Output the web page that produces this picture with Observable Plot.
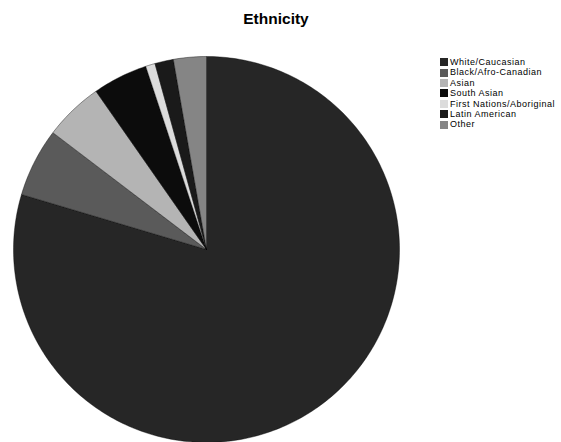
<!DOCTYPE html>
<html>
<head>
<meta charset="utf-8">
<script src="https://cdn.jsdelivr.net/npm/d3@7"></script>
<script src="https://cdn.jsdelivr.net/npm/@observablehq/plot@0.6"></script>
<style>
  body { margin: 0; background: #fff; font-family: "Liberation Sans", Arial, sans-serif; }
  #wrap { position: relative; width: 561px; height: 442px; overflow: hidden; }
  #title { position: absolute; left: 276px; top: 10px; transform: translateX(-50%); font-weight: bold; font-size: 15.5px; white-space: nowrap; }
  #legend { position: absolute; left: 440px; top: 57px; font-size: 9px; letter-spacing: 0.5px; }
  .row { display: flex; align-items: center; height: 10.4px; white-space: nowrap; }
  .sw { width: 8px; height: 8px; margin-right: 2px; flex: none; }
  .lab { display: block; line-height: 10.4px; }
  #chart { position: absolute; left: 0; top: 30px; }
</style>
</head>
<body>
<div id="wrap">
  <div id="title">Ethnicity</div>
  <div id="chart"></div>
  <div id="legend"></div>
</div>
<script>
const categories = ["White/Caucasian", "Black/Afro-Canadian", "Asian", "South Asian", "First Nations/Aboriginal", "Latin American", "Other"];
const percentages = [79.6, 5.75, 4.95, 4.6, 0.8, 1.55, 2.75];
const colors = ["#262626", "#5a5a5a", "#b4b4b4", "#0c0c0c", "#dcdcdc", "#1a1a1a", "#858585"];

// Slice outlines on the unit circle (pie starts at 12 o'clock, clockwise)
const total = d3.sum(percentages);
const pts = [];
let acc = 0;
categories.forEach((name, i) => {
  const a0 = acc / total * 2 * Math.PI;
  acc += percentages[i];
  const a1 = acc / total * 2 * Math.PI;
  pts.push({name, x: 0, y: 0});
  const n = Math.max(2, Math.ceil((a1 - a0) / (Math.PI / 180)));
  for (let k = 0; k <= n; k++) {
    const a = a0 + (a1 - a0) * k / n;
    pts.push({name, x: Math.sin(a), y: Math.cos(a)});
  }
  pts.push({name, x: 0, y: 0});
});

const chart = Plot.plot({
  width: 561,
  height: 412,
  marginLeft: 13,
  marginRight: 162,
  marginTop: 26,
  marginBottom: 0,
  x: {domain: [-1, 1], axis: null},
  y: {domain: [-1, 1], axis: null},
  color: {domain: categories, range: colors},
  marks: [
    Plot.line(pts, {x: "x", y: "y", z: "name", fill: "name", stroke: "#000", strokeWidth: 0.4, curve: "linear"})
  ]
});
document.getElementById("chart").appendChild(chart);

const legend = document.getElementById("legend");
categories.forEach((c, i) => {
  const row = document.createElement("div");
  row.className = "row";
  const sw = document.createElement("div");
  sw.className = "sw";
  sw.style.background = colors[i];
  const t = document.createElement("span");
  t.className = "lab";
  t.textContent = c;
  row.appendChild(sw);
  row.appendChild(t);
  legend.appendChild(row);
});
</script>
</body>
</html>
